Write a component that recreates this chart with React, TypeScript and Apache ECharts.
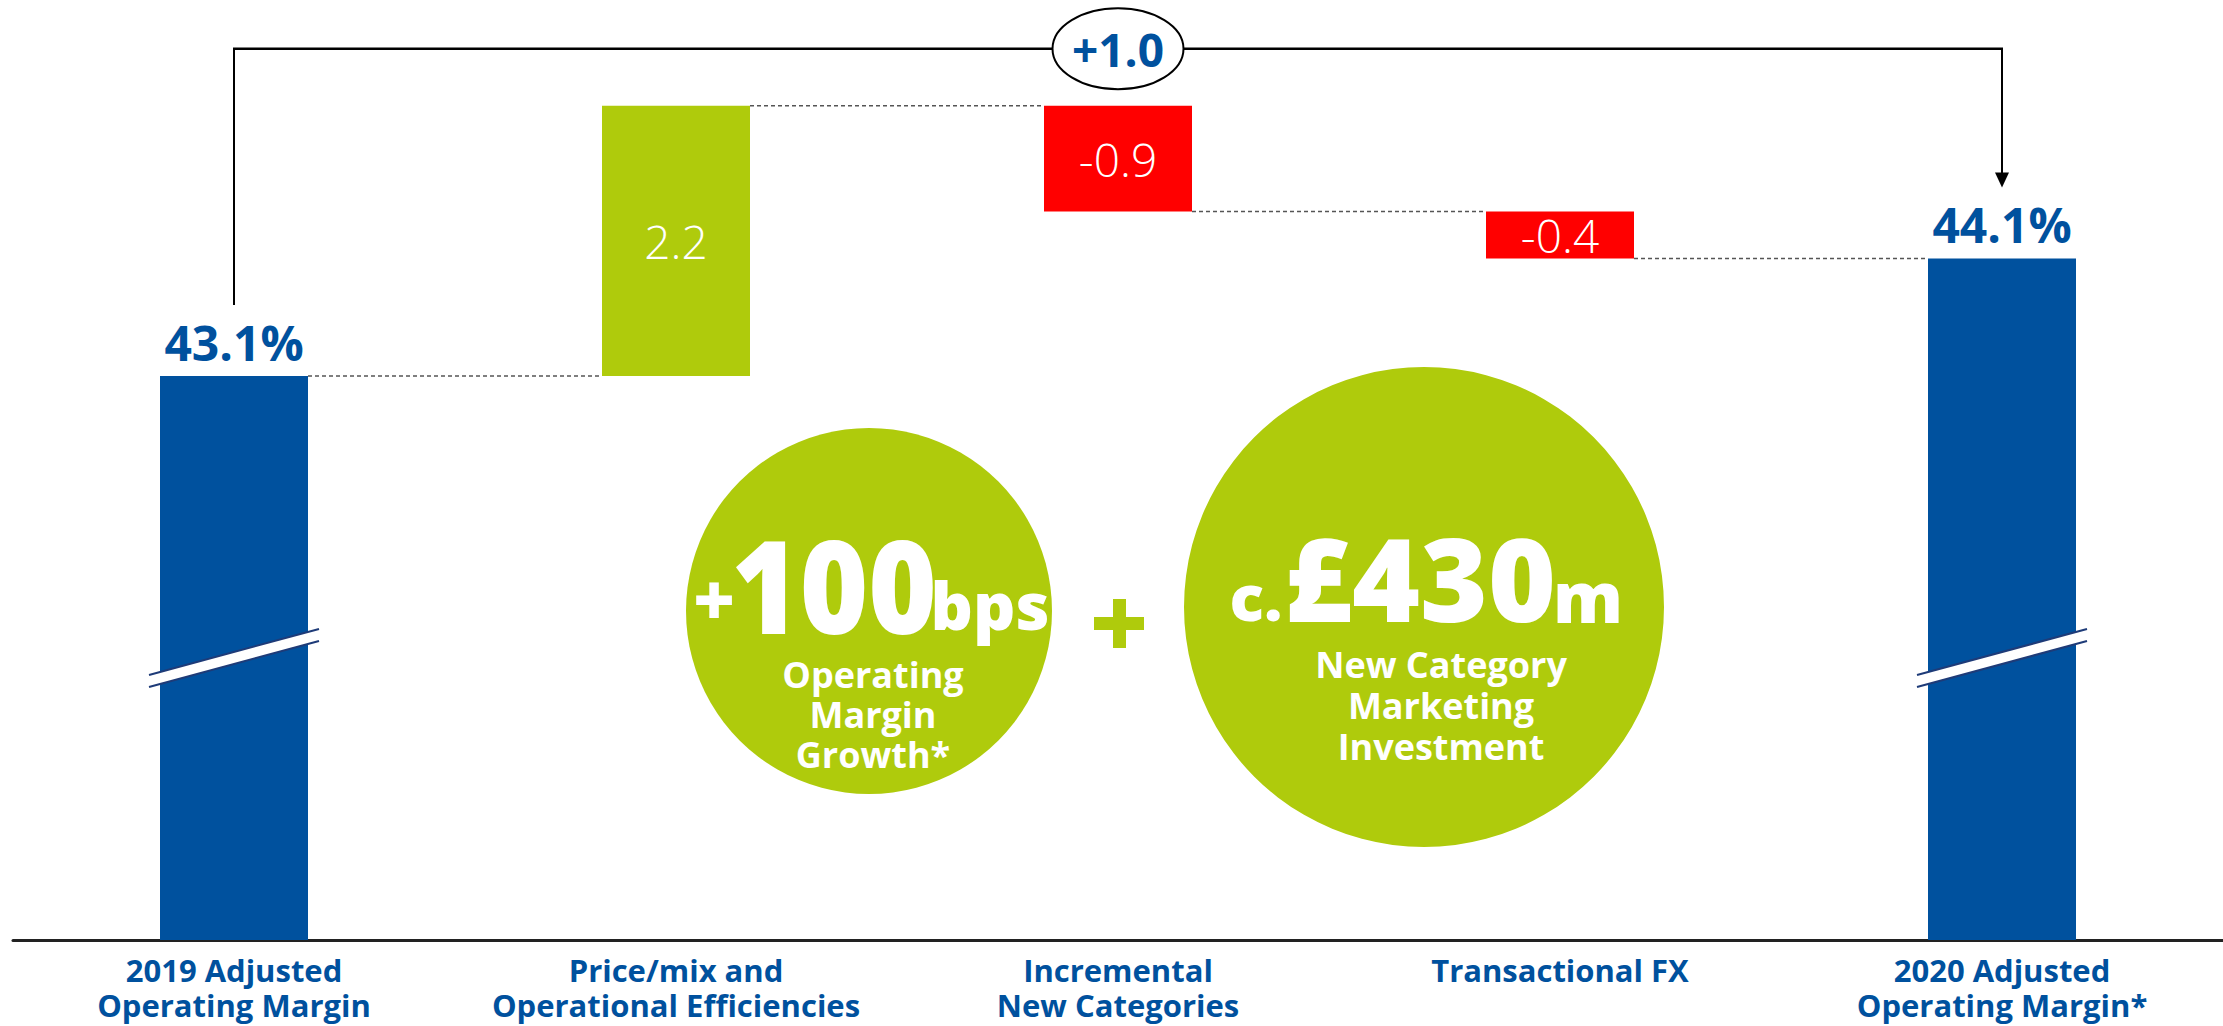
import React, { useEffect, useRef } from "react";
import * as echarts from "echarts";

// ---------- data ----------
const categories = [
  "2019 Adjusted\nOperating Margin",
  "Price/mix and\nOperational Efficiencies",
  "Incremental\nNew Categories",
  "Transactional FX",
  "2020 Adjusted\nOperating Margin*",
];
// bar heights as drawn in the picture (percentage points)
const stepValues = [43.1, 2.3, -0.9, -0.4, 44.1];
const stepKinds = ["total", "delta", "delta", "delta", "total"];
const valueLabels = ["43.1%", "2.2", "-0.9", "-0.4", "44.1%"];
const changeLabel = "+1.0";
const axisMin = 38.3;
const axisMax = 46.3;
const breakLevel = 40.7;

// ---------- style ----------
const BLUE = "#00519E";
const GREEN = "#AFCB0C";
const RED = "#FF0000";
const NAVY = "#1E3B78";
const BAR_W = 148;
const FONT = "'Open Sans', 'Noto Sans', sans-serif";

// waterfall build
const bases: number[] = [];
const heights: number[] = [];
const levels: number[] = [];
let running = 0;
stepValues.forEach((v, i) => {
  if (stepKinds[i] === "total") {
    bases.push(0);
    heights.push(v);
    running = v;
  } else if (v >= 0) {
    bases.push(running);
    heights.push(v);
    running += v;
  } else {
    running += v;
    bases.push(running);
    heights.push(-v);
  }
  levels.push(Math.round(running * 100) / 100);
});
const peak = Math.max(...bases.map((b, i) => b + heights[i]));

function txt(t: string, x: number, y: number, size: number, weight: any, lh?: number) {
  return {
    type: "text",
    x,
    y,
    z: 10,
    style: {
      text: t,
      fill: "#FFFFFF",
      fontSize: size,
      fontWeight: weight,
      fontFamily: FONT,
      lineHeight: lh ?? size,
      align: "center",
      verticalAlign: "middle",
      textAlign: "center",
      textVerticalAlign: "middle",
    },
  };
}

export default function App() {
  const ref = useRef<HTMLDivElement>(null);
  useEffect(() => {
    if (!ref.current) return;
    const chart = echarts.init(ref.current, null, { renderer: "svg" });

    const barData = heights.map((h, i) => {
      const total = stepKinds[i] === "total";
      const color = total ? BLUE : stepValues[i] >= 0 ? GREEN : RED;
      return {
        value: h,
        itemStyle: { color },
        label: total
          ? {
              show: true,
              position: "top",
              distance: 10,
              formatter: valueLabels[i],
              color: BLUE,
              fontSize: 48,
              fontWeight: "bold",
              fontFamily: FONT,
              lineHeight: 48,
            }
          : {
              show: true,
              position: "inside",
              formatter: valueLabels[i],
              color: "#FFFFFF",
              fontSize: 46,
              fontWeight: 300,
              fontFamily: FONT,
              lineHeight: 46,
            },
      };
    });

    const connectorData = levels.slice(0, levels.length - 1).map((l, i) => [i, l]);

    const option: any = {
      animation: false,
      backgroundColor: "#FFFFFF",
      grid: { left: 13, top: 0, width: 2214, height: 940, containLabel: false },
      xAxis: {
        type: "category",
        data: categories,
        boundaryGap: true,
        axisLine: { show: true, lineStyle: { color: "#222222", width: 3 } },
        axisTick: { show: false },
        axisLabel: {
          color: BLUE,
          fontSize: 31,
          fontWeight: "bold",
          fontFamily: FONT,
          lineHeight: 35,
          margin: 12,
          interval: 0,
        },
      },
      yAxis: {
        type: "value",
        min: axisMin,
        max: axisMax,
        show: false,
        splitLine: { show: false },
      },
      series: [
        {
          name: "base",
          type: "bar",
          stack: "w",
          barWidth: BAR_W,
          clip: true,
          z: 2,
          itemStyle: { color: "rgba(0,0,0,0)" },
          data: bases,
          silent: true,
        },
        {
          name: "step",
          type: "bar",
          stack: "w",
          barWidth: BAR_W,
          clip: true,
          z: 2,
          data: barData,
        },
        {
          name: "connectors",
          type: "custom",
          clip: false,
          z: 5,
          data: connectorData,
          renderItem: (params: any, api: any) => {
            const i = api.value(0);
            const lvl = api.value(1);
            const p1 = api.coord([i, lvl]);
            const p2 = api.coord([i + 1, lvl]);
            return {
              type: "line",
              shape: { x1: p1[0] + BAR_W / 2, y1: p1[1], x2: p2[0] - BAR_W / 2, y2: p2[1] },
              style: { stroke: "#555555", lineWidth: 1.5, lineDash: [4, 3] },
            };
          },
        },
        {
          name: "breaks",
          type: "custom",
          clip: false,
          z: 10,
          data: [
            [0, breakLevel],
            [4, breakLevel],
          ],
          renderItem: (params: any, api: any) => {
            const p = api.coord([api.value(0), api.value(1)]);
            const cx = p[0];
            const cy = p[1];
            const h = 85;
            return {
              type: "group",
              children: [
                {
                  type: "polygon",
                  z2: 10,
                  shape: {
                    points: [
                      [cx - h, cy + 17],
                      [cx + h, cy - 29],
                      [cx + h, cy - 17],
                      [cx - h, cy + 29],
                    ],
                  },
                  style: { fill: "#FFFFFF" },
                },
                {
                  type: "line",
                  z2: 11,
                  shape: { x1: cx - h, y1: cy + 17, x2: cx + h, y2: cy - 29 },
                  style: { stroke: NAVY, lineWidth: 2 },
                },
                {
                  type: "line",
                  z2: 11,
                  shape: { x1: cx - h, y1: cy + 29, x2: cx + h, y2: cy - 17 },
                  style: { stroke: NAVY, lineWidth: 2 },
                },
              ],
            };
          },
        },
        {
          name: "bracket",
          type: "custom",
          clip: false,
          z: 6,
          data: [[0, peak]],
          renderItem: (params: any, api: any) => {
            const a = api.coord([0, stepValues[0]]);
            const b = api.coord([4, stepValues[4]]);
            const pk = api.coord([0, peak]);
            const x0 = a[0];
            const x4 = b[0];
            const yTop = pk[1] - 57;
            const yLeft = a[1] - 71;
            const yTip = b[1] - 71;
            const mx = (x0 + x4) / 2;
            return {
              type: "group",
              children: [
                { type: "line", shape: { x1: x0, y1: yLeft, x2: x0, y2: yTop }, style: { stroke: "#000", lineWidth: 2 } },
                { type: "line", shape: { x1: x0 - 1, y1: yTop, x2: x4 + 1, y2: yTop }, style: { stroke: "#000", lineWidth: 2.5 } },
                { type: "line", shape: { x1: x4, y1: yTop, x2: x4, y2: yTip - 14 }, style: { stroke: "#000", lineWidth: 2 } },
                {
                  type: "polygon",
                  shape: { points: [[x4 - 7, yTip - 15], [x4 + 7, yTip - 15], [x4, yTip]] },
                  style: { fill: "#000" },
                },
                {
                  type: "ellipse",
                  shape: { cx: mx, cy: yTop, rx: 65.5, ry: 40.5 },
                  style: { fill: "#FFFFFF", stroke: "#000", lineWidth: 2 },
                },
                {
                  type: "text",
                  x: mx,
                  y: yTop,
                  style: {
                    text: changeLabel,
                    fill: BLUE,
                    fontSize: 46,
                    fontWeight: "bold",
                    fontFamily: FONT,
                    lineHeight: 46,
                    align: "center",
                    verticalAlign: "middle",
                    textAlign: "center",
                    textVerticalAlign: "middle",
                  },
                },
              ],
            };
          },
        },
      ],
      graphic: [
        { type: "circle", z: 1, shape: { cx: 869, cy: 611, r: 183 }, style: { fill: GREEN } },
        { type: "circle", z: 1, shape: { cx: 1424, cy: 607, r: 240 }, style: { fill: GREEN } },
        { type: "rect", z: 1, shape: { x: 1094, y: 617, width: 50, height: 13 }, style: { fill: GREEN } },
        { type: "rect", z: 1, shape: { x: 1113, y: 599, width: 13, height: 49 }, style: { fill: GREEN } },
        // +100bps
        txt("+", 714, 598, 72, 800, 44),
        { ...txt("100", 834, 584, 130, 800, 92), scaleX: 0.9 },
        txt("bps", 990, 604, 66, 800, 50),
        txt("Operating\nMargin\nGrowth*", 873, 714, 36, "bold", 40),
        // c.£430m
        txt("c.", 1256, 596, 64, 800, 44),
        txt("£430", 1420, 577, 116, 800, 84),
        txt("m", 1588, 596, 70, 800, 44),
        txt("New Category\nMarketing\nInvestment", 1441, 705, 36, "bold", 41),
      ],
    };

    chart.setOption(option);
    return () => chart.dispose();
  }, []);

  return (
    <div
      ref={ref}
      style={{ position: "absolute", left: 0, top: 0, width: 2223, height: 1026, background: "#fff" }}
    />
  );
}
